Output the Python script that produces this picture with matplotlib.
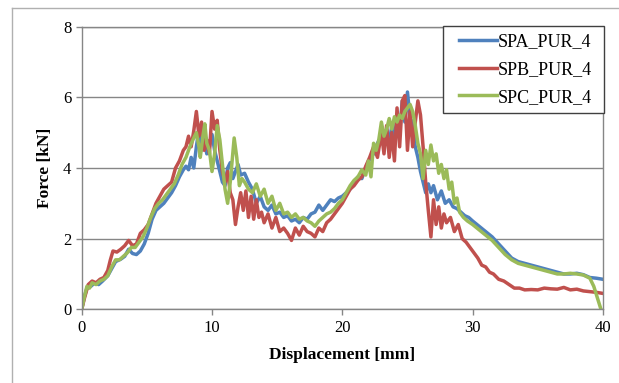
import matplotlib
matplotlib.use("Agg")
import matplotlib.pyplot as plt
from matplotlib.lines import Line2D
from matplotlib.legend_handler import HandlerLine2D

plt.rcParams['font.family'] = ['Liberation Serif', 'DejaVu Serif']

# SPA_PUR_4
spa_x = [0, 0.2, 0.4, 0.7, 1.0, 1.3, 1.6, 2.0, 2.3, 2.6, 3.0, 3.3, 3.6, 3.9, 4.2, 4.5, 4.8, 5.1, 5.4, 5.7,
         6.0, 6.3, 6.6, 6.9, 7.2, 7.5, 7.8, 8.0, 8.2, 8.4, 8.6, 8.8, 9.0, 9.2, 9.4, 9.6, 9.8, 10.0, 10.2, 10.4,
         10.6, 10.8, 11.0, 11.2, 11.4, 11.6, 11.8, 12.0, 12.2, 12.5, 12.8, 13.1, 13.4, 13.7, 14.0, 14.3, 14.6, 14.9, 15.2, 15.5,
         15.8, 16.1, 16.4, 16.7, 17.0, 17.3, 17.6, 17.9, 18.2, 18.5, 18.8, 19.1, 19.4, 19.7, 20.0, 20.3, 20.6, 20.9, 21.2, 21.5,
         21.8, 22.1, 22.4, 22.7, 23.0, 23.2, 23.4, 23.6, 23.8, 24.0, 24.2, 24.4, 24.6, 24.8, 25.0, 25.2, 25.4, 25.6, 25.8, 26.0,
         26.2, 26.4, 26.6, 26.8, 27.0, 27.3, 27.6, 27.9, 28.2, 28.5, 28.8, 29.1, 29.4, 29.7, 30.0, 30.5, 31.0, 31.5, 32.0, 32.5,
         33.0, 33.5, 34.0, 34.5, 35.0, 35.5, 36.0, 36.5, 37.0, 37.5, 38.0, 38.5, 39.0, 39.5, 40.0]
spa_y = [0, 0.35, 0.6, 0.65, 0.75, 0.7, 0.8, 0.95, 1.15, 1.35, 1.42, 1.5, 1.7, 1.58, 1.55, 1.65, 1.85, 2.15, 2.55, 2.8,
         2.9, 3.0, 3.15, 3.3, 3.5, 3.75, 3.95, 4.05, 3.95, 4.3, 4.0, 4.6, 5.1, 4.5, 4.8, 4.4, 4.6, 4.95, 4.5, 4.2,
         3.9, 3.6, 3.5, 4.0, 4.15, 3.7, 3.9, 4.1, 3.8, 3.85, 3.6, 3.4, 3.0, 3.2, 2.9, 2.8, 2.95, 2.7, 2.75, 2.6,
         2.65, 2.5, 2.55, 2.45, 2.6, 2.55, 2.7, 2.75, 2.95, 2.8, 2.95, 3.1, 3.05, 3.15, 3.2, 3.3, 3.4, 3.6, 3.75, 3.7,
         4.0, 4.25, 4.4, 4.7, 4.9, 4.6, 5.1, 4.7, 5.2, 4.8, 5.5, 5.0, 5.9, 5.3, 6.15, 5.4, 5.3, 4.6, 4.3, 3.9,
         3.6, 3.3, 3.55, 3.3, 3.5, 3.1, 3.35, 3.0, 3.1, 2.9, 2.85, 2.75, 2.65, 2.6, 2.5, 2.35, 2.2, 2.05, 1.85, 1.65,
         1.45, 1.35, 1.3, 1.25, 1.2, 1.15, 1.1, 1.05, 1.0, 1.0, 1.02, 0.98, 0.9, 0.88, 0.85]

# SPB_PUR_4
spb_x = [0, 0.2, 0.5, 0.8, 1.1, 1.4, 1.7, 2.0, 2.2, 2.4, 2.7, 3.0, 3.3, 3.6, 3.9, 4.2, 4.5, 4.8, 5.1, 5.4,
         5.7, 6.0, 6.3, 6.6, 6.9, 7.2, 7.5, 7.8, 8.0, 8.2, 8.4, 8.6, 8.8, 9.0, 9.2, 9.4, 9.6, 9.8, 10.0, 10.2,
         10.4, 10.6, 10.8, 11.0, 11.2, 11.4, 11.6, 11.8, 12.0, 12.2, 12.4, 12.6, 12.8, 13.0, 13.2, 13.4, 13.6, 13.8, 14.0, 14.3,
         14.6, 14.9, 15.2, 15.5, 15.8, 16.1, 16.4, 16.7, 17.0, 17.3, 17.6, 17.9, 18.2, 18.5, 18.8, 19.1, 19.4, 19.7, 20.0, 20.3,
         20.6, 20.9, 21.2, 21.5, 21.8, 22.1, 22.4, 22.7, 23.0, 23.2, 23.4, 23.6, 23.8, 24.0, 24.2, 24.4, 24.6, 24.8, 25.0, 25.2,
         25.4, 25.6, 25.8, 26.0, 26.2, 26.4, 26.6, 26.8, 27.0, 27.2, 27.4, 27.6, 27.8, 28.0, 28.3, 28.6, 28.9, 29.2, 29.5, 29.8,
         30.1, 30.4, 30.7, 31.0, 31.3, 31.6, 32.0, 32.4, 32.8, 33.2, 33.6, 34.0, 34.5, 35.0, 35.5, 36.0, 36.5, 37.0, 37.5, 38.0,
         38.5, 39.0, 39.5, 40.0]
spb_y = [0, 0.3, 0.7, 0.8, 0.75, 0.85, 0.9, 1.1, 1.4, 1.65, 1.62, 1.7, 1.8, 1.95, 1.8, 1.85, 2.15, 2.25, 2.4, 2.7,
         3.0, 3.2, 3.4, 3.5, 3.6, 4.0, 4.2, 4.5, 4.6, 4.9, 4.6, 5.05, 5.6, 4.9, 5.3, 4.5, 4.8, 4.4, 5.6, 5.1,
         5.35, 4.5, 3.9, 3.6, 3.9, 3.3, 3.1, 2.4, 2.9, 3.3, 2.8, 3.35, 2.6, 3.2, 2.55, 3.1, 2.6, 2.75, 2.45, 2.7,
         2.3, 2.6, 2.2, 2.3, 2.15, 1.95, 2.3, 2.1, 2.35, 2.2, 2.15, 2.05, 2.3, 2.2, 2.45, 2.55, 2.7, 2.85, 3.0, 3.2,
         3.4, 3.5, 3.65, 3.75, 4.05, 4.3, 4.6, 4.3, 5.0, 4.4, 5.2, 4.3, 5.0, 4.2, 5.7, 4.6, 5.9, 6.05, 4.5, 5.6,
         4.6, 5.3, 5.9, 5.5, 4.6, 3.6, 2.8, 2.05, 3.1, 2.4, 2.9, 2.3, 2.7, 2.45, 2.6, 2.2, 2.4, 2.0, 1.9, 1.75,
         1.6, 1.45, 1.25, 1.2, 1.05, 1.0, 0.85, 0.8, 0.7, 0.6, 0.6, 0.55, 0.56, 0.55, 0.6, 0.58, 0.57, 0.62, 0.55, 0.57,
         0.52, 0.5, 0.48, 0.45]

# SPC_PUR_4
spc_x = [0, 0.2, 0.4, 0.6, 0.8, 1.1, 1.4, 1.7, 2.0, 2.3, 2.6, 2.9, 3.2, 3.5, 3.8, 4.1, 4.4, 4.7, 5.0, 5.3,
         5.6, 5.9, 6.2, 6.5, 6.8, 7.1, 7.4, 7.7, 8.0, 8.3, 8.6, 8.8, 9.0, 9.1, 9.3, 9.45, 9.6, 9.8, 10.0, 10.2,
         10.4, 10.6, 10.8, 11.0, 11.2, 11.4, 11.7, 11.9, 12.1, 12.3, 12.5, 12.8, 13.1, 13.4, 13.7, 14.0, 14.3, 14.6, 14.9, 15.2,
         15.5, 15.8, 16.1, 16.4, 16.7, 17.0, 17.3, 17.6, 17.9, 18.2, 18.5, 18.8, 19.1, 19.4, 19.7, 20.0, 20.3, 20.6, 20.9, 21.2,
         21.5, 21.8, 22.0, 22.2, 22.4, 22.6, 22.8, 23.0, 23.2, 23.4, 23.6, 23.8, 24.0, 24.2, 24.4, 24.6, 24.8, 25.0, 25.2, 25.4,
         25.6, 25.8, 26.0, 26.2, 26.4, 26.6, 26.8, 27.0, 27.2, 27.4, 27.6, 27.8, 28.0, 28.2, 28.4, 28.6, 28.8, 29.0, 29.3, 29.6,
         30.0, 30.5, 31.0, 31.5, 32.0, 32.5, 33.0, 33.5, 34.0, 34.5, 35.0, 35.5, 36.0, 36.5, 37.0, 37.5, 38.0, 38.5, 39.0, 39.3,
         39.6, 39.85]
spc_y = [0, 0.35, 0.65, 0.6, 0.75, 0.7, 0.8, 0.85, 0.95, 1.2, 1.4, 1.4, 1.5, 1.6, 1.75, 1.75, 1.9, 2.05, 2.3, 2.6,
         2.85, 3.0, 3.1, 3.25, 3.4, 3.55, 3.8, 4.1, 4.3, 4.6, 4.85, 5.0, 4.6, 4.3, 4.9, 5.25, 4.7, 4.5, 3.9, 4.4,
         5.2, 4.8, 4.1, 3.4, 3.0, 3.6, 4.85, 4.3, 3.5, 3.7, 3.6, 3.4, 3.3, 3.55, 3.2, 3.4, 3.0, 3.2, 2.8, 3.0,
         2.7, 2.75, 2.6, 2.7, 2.55, 2.6, 2.5, 2.45, 2.35, 2.5, 2.6, 2.7, 2.75, 2.85, 3.0, 3.1, 3.3, 3.5, 3.65, 3.75,
         3.95, 3.8, 4.2, 3.75, 4.7, 4.5, 4.8, 5.3, 4.9, 5.1, 5.4, 5.1, 5.45, 5.3, 5.5, 5.4, 5.6, 5.7, 5.8, 5.6,
         5.2, 4.7, 4.4, 3.7, 4.5, 4.1, 4.65, 4.2, 4.4, 3.85, 4.1, 3.7, 3.95, 3.4, 3.6, 3.0, 3.15, 2.75, 2.6, 2.5,
         2.4, 2.25, 2.1, 1.95, 1.75, 1.55, 1.4, 1.3, 1.25, 1.2, 1.15, 1.1, 1.05, 1.0, 1.0, 1.02, 1.0, 0.97, 0.88, 0.65,
         0.3, 0.0]

labels = ["SPA_PUR_4", "SPB_PUR_4", "SPC_PUR_4"]
colors = ["#4F81BD", "#C0504D", "#9BBB59"]

fig = plt.figure(figsize=(6.19, 3.83), dpi=100)
ax = fig.add_axes([0.132, 0.1924, 0.842, 0.738])

for xs, ys, lab, c in zip([spa_x, spb_x, spc_x], [spa_y, spb_y, spc_y], labels, colors):
    ax.plot(xs, ys, color=c, lw=2.5, label=lab, solid_joinstyle='round')

ax.set_xlim(0, 40)
ax.set_ylim(0, 8)
ax.set_xticks([0, 10, 20, 30, 40])
ax.set_yticks([0, 2, 4, 6, 8])
ax.grid(axis='y', color='#868686', lw=1)
ax.set_axisbelow(True)
for s in ax.spines.values():
    s.set_color('#868686')
    s.set_linewidth(1)
ax.tick_params(axis='both', labelsize=12, color='#868686', length=4, width=1)
ax.set_xlabel("Displacement [mm]", fontsize=12.5, fontweight='bold', labelpad=8)
ax.set_ylabel("Force [kN]", fontsize=12.5, fontweight='bold', labelpad=7)

leg = ax.legend(loc='upper left', bbox_to_anchor=(0.693, 0.0, 0.309, 1.003), mode='expand',
                borderaxespad=0, fontsize=13, fancybox=False, framealpha=1, edgecolor='#404040',
                handlelength=2.6, handletextpad=0.05, labelspacing=0.6, borderpad=0.4,
                handler_map={Line2D: HandlerLine2D(xpad=0.5)})
leg.get_frame().set_linewidth(1)

# outer chart border
fig.add_artist(Line2D([0.019, 0.019], [0, 0.978], color='#b0b0b0', lw=1))
fig.add_artist(Line2D([0.019, 1.0], [0.978, 0.978], color='#b0b0b0', lw=1))

fig.savefig("out.png", dpi=100)
